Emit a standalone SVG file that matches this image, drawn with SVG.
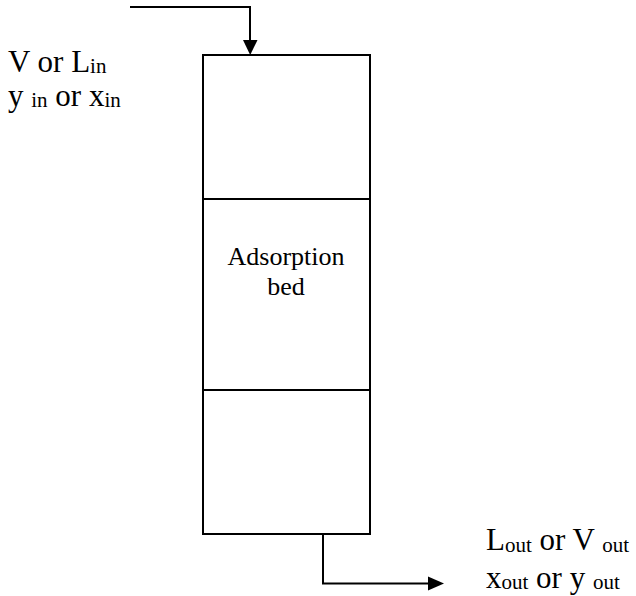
<svg xmlns="http://www.w3.org/2000/svg" width="636" height="596" viewBox="0 0 636 596">
  <style>
    .ln { fill: none; stroke: #000; stroke-width: 2; }
    .head { fill: #000; stroke: none; }
    .t { font-family: "Liberation Serif", "Times New Roman", serif; fill: #000; }
    .big { font-size: 31px; }
    .mid { font-size: 26px; }
    .sub { font-size: 21px; }
  </style>
  <rect width="636" height="596" fill="#fff"/>

  <!-- column with three sections -->
  <g id="column">
    <rect class="ln" x="203" y="55" width="167" height="479"/>
    <line class="ln" x1="203" y1="199" x2="370" y2="199"/>
    <line class="ln" x1="203" y1="390" x2="370" y2="390"/>
  </g>
  <g id="bed-label">
    <text class="t mid" x="286" y="265" text-anchor="middle">Adsorption</text>
    <text class="t mid" x="286" y="295" text-anchor="middle">bed</text>
  </g>

  <!-- inlet and outlet streams -->
  <g id="connectors">
    <path class="ln" d="M130,7 H250 V41"/>
    <polygon class="head" points="243,40 257.5,40 250.2,55"/>
    <path class="ln" d="M323,534 V583.5 H429"/>
    <polygon class="head" points="428,576.5 428,590.5 444,583.5"/>
  </g>

  <g id="inlet-label">
    <text class="t big" x="8" y="72">V or L<tspan class="sub" dy="1">in</tspan></text>
    <text class="t big" x="8" y="106">y <tspan class="sub" dy="1">in</tspan><tspan dy="-1"> or x</tspan><tspan class="sub" dy="1">in</tspan></text>
  </g>
  <g id="outlet-label">
    <text class="t big" x="486" y="550">L<tspan class="sub" dy="2">out</tspan><tspan dy="-2">  or V </tspan><tspan class="sub" dy="2">out</tspan></text>
    <text class="t big" x="486" y="588">x<tspan class="sub" dy="1">out</tspan><tspan dy="-1">  or y </tspan><tspan class="sub" dy="1">out</tspan></text>
  </g>
</svg>
